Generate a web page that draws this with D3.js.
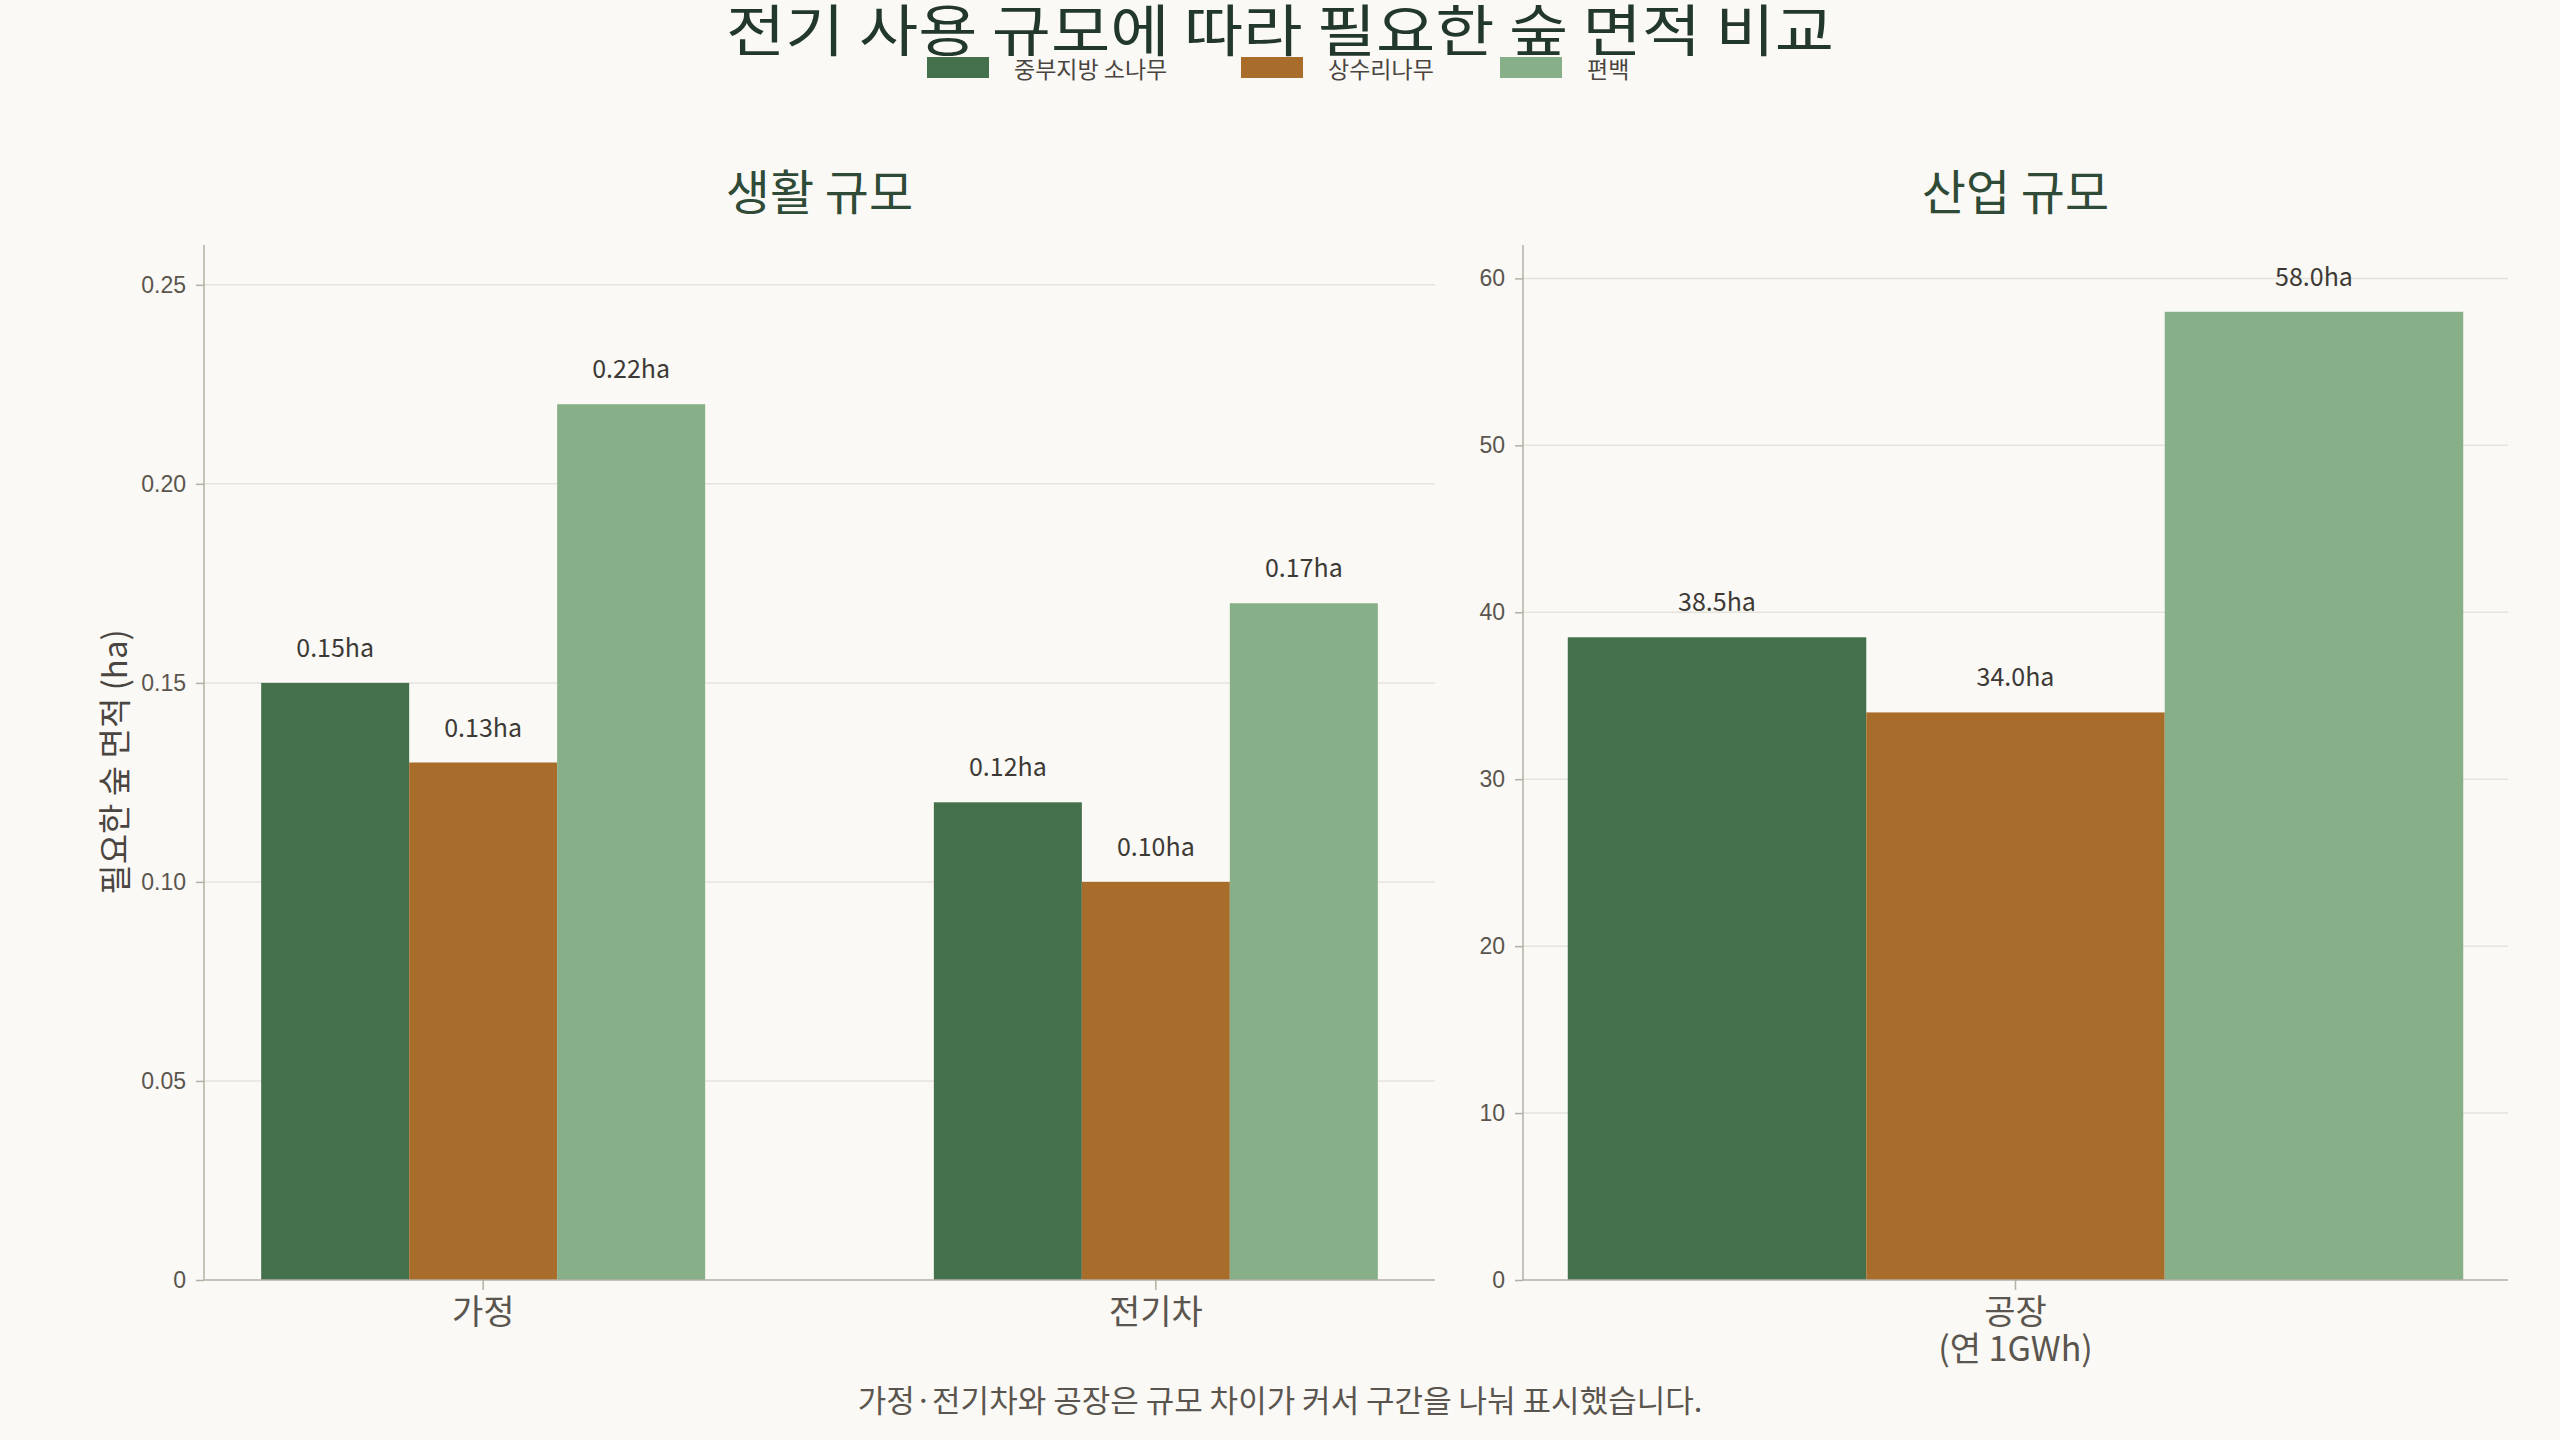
<!DOCTYPE html>
<html>
<head>
  <meta charset="utf-8">
  <title>전기 사용 규모에 따라 필요한 숲 면적 비교</title>
  <script src="https://cdn.jsdelivr.net/npm/d3@7"></script>
  <style>
    body { margin: 0; background: #faf9f5; }
    svg { font-family: "Noto Sans CJK KR", "Noto Sans", sans-serif; }
    .grid line { stroke: #e6e3dc; stroke-width: 1.5px; }
    .axis path, .axis line { stroke: #b5afa5; stroke-width: 1.5px; }
    .axis text { fill: #5a554e; }
  </style>
</head>
<body>
<svg id="chart" width="2560" height="1440"></svg>

<script type="text/javascript">
  // data
  var species = ['중부지방 소나무', '상수리나무', '편백'];
  var colors = ['#44704c', '#a86d2b', '#87af88'];

  var lifeCats = ['가정', '전기차'];
  var lifeValues = [
    [0.15, 0.13, 0.22],   // 가정
    [0.12, 0.10, 0.17]    // 전기차
  ];
  var lifeTicks = [0, 0.05, 0.10, 0.15, 0.20, 0.25];
  var lifeTickLabels = ['0', '0.05', '0.10', '0.15', '0.20', '0.25'];

  var industryCats = ['공장|(연 1GWh)'];
  var industryValues = [
    [38.5, 34.0, 58.0]
  ];
  var industryTicks = [0, 10, 20, 30, 40, 50, 60];

  var svg = d3.select('#chart');
  var plotTop = 245, plotBottom = 1280;

  function panel(opt) {
    var g = svg.append('g');

    var x0 = d3.scaleBand()
      .domain(opt.cats)
      .range([opt.left, opt.right])
      .paddingInner(opt.pi)
      .paddingOuter(opt.po);

    var x1 = d3.scaleBand()
      .domain(species)
      .range([0, x0.bandwidth()]);

    var y = d3.scaleLinear()
      .domain([0, opt.ymax])
      .range([plotBottom, plotTop]);

    // grid
    g.append('g')
      .attr('class', 'grid')
      .selectAll('line')
      .data(opt.ticks.filter(d => d > 0))
      .enter()
      .append('line')
      .attr('x1', opt.left)
      .attr('x2', opt.right)
      .attr('y1', d => y(d))
      .attr('y2', d => y(d));

    // bars
    var groups = g.selectAll('g.grp')
      .data(opt.cats)
      .enter()
      .append('g')
      .attr('class', 'grp')
      .attr('transform', d => 'translate(' + x0(d) + ',0)');

    groups.selectAll('rect')
      .data((d, i) => opt.values[i].map((v, j) => ({ v: v, s: species[j], j: j })))
      .enter()
      .append('rect')
      .attr('x', d => x1(d.s))
      .attr('width', x1.bandwidth())
      .attr('y', d => y(d.v))
      .attr('height', d => plotBottom - y(d.v))
      .attr('fill', d => colors[d.j]);

    groups.selectAll('text')
      .data((d, i) => opt.values[i].map((v, j) => ({ v: v, s: species[j] })))
      .enter()
      .append('text')
      .attr('x', d => x1(d.s) + x1.bandwidth() / 2)
      .attr('y', d => y(d.v) - 26)
      .attr('text-anchor', 'middle')
      .attr('font-size', 25)
      .attr('fill', '#3d3a36')
      .text(d => opt.fmt(d.v) + 'ha');

    // y axis
    var yAxis = g.append('g')
      .attr('class', 'axis')
      .attr('transform', 'translate(' + opt.left + ',0)')
      .call(d3.axisLeft(y).tickValues(opt.ticks).tickSize(8).tickPadding(10)
        .tickFormat((d, i) => opt.tickLabels ? opt.tickLabels[i] : d));
    yAxis.select('.domain').attr('d', 'M0,' + plotTop + 'V' + plotBottom);
    yAxis.selectAll('text').attr('font-size', 23);

    // x axis
    var xAxis = g.append('g')
      .attr('class', 'axis')
      .attr('transform', 'translate(0,' + plotBottom + ')')
      .call(d3.axisBottom(x0).tickSize(10).tickSizeOuter(0).tickFormat(''));
    xAxis.select('.domain').attr('d', 'M' + opt.left + ',0H' + opt.right);

    opt.cats.forEach(function (c) {
      var lines = c.split('|');
      var t = g.append('text')
        .attr('x', x0(c) + x0.bandwidth() / 2)
        .attr('y', plotBottom + 44)
        .attr('text-anchor', 'middle')
        .attr('font-size', 34)
        .attr('fill', '#5a554e');
      lines.forEach(function (l, i) {
        t.append('tspan')
          .attr('x', x0(c) + x0.bandwidth() / 2)
          .attr('dy', i === 0 ? 0 : 37)
          .text(l);
      });
    });

    // subplot title
    g.append('text')
      .attr('x', (opt.left + opt.right) / 2)
      .attr('y', 210)
      .attr('text-anchor', 'middle')
      .attr('font-size', 48)
      .attr('fill', '#2f4a36')
      .text(opt.title);
  }

  panel({
    left: 204, right: 1435, cats: lifeCats, values: lifeValues,
    pi: 0.34, po: 0.085, ymax: 0.26, ticks: lifeTicks, tickLabels: lifeTickLabels,
    fmt: d3.format('.2f'), title: '생활 규모'
  });

  panel({
    left: 1523, right: 2508, cats: industryCats, values: industryValues,
    pi: 0, po: 0.05, ymax: 62, ticks: industryTicks,
    fmt: d3.format('.1f'), title: '산업 규모'
  });

  // y label
  svg.append('text')
    .attr('transform', 'translate(127,762) rotate(-90)')
    .attr('text-anchor', 'middle')
    .attr('font-size', 33)
    .attr('fill', '#4a4540')
    .text('필요한 숲 면적 (ha)');

  // title (slightly widened to match the reference face)
  svg.append('text')
    .attr('transform', 'translate(1280,51) scale(1.15,1)')
    .attr('text-anchor', 'middle')
    .attr('font-size', 56)
    .attr('fill', '#22382a')
    .text('전기 사용 규모에 따라 필요한 숲 면적 비교');

  // legend
  var legendX = [927, 1241, 1500];
  var legend = svg.append('g');
  species.forEach(function (s, i) {
    legend.append('rect')
      .attr('x', legendX[i])
      .attr('y', 57)
      .attr('width', 62)
      .attr('height', 21)
      .attr('fill', colors[i]);
    legend.append('text')
      .attr('x', legendX[i] + 87)
      .attr('y', 78)
      .attr('font-size', 23)
      .attr('fill', '#4a4540')
      .text(s);
  });

  // footnote
  svg.append('text')
    .attr('x', 1280)
    .attr('y', 1412)
    .attr('text-anchor', 'middle')
    .attr('font-size', 31)
    .attr('fill', '#5a554e')
    .text('가정·전기차와 공장은 규모 차이가 커서 구간을 나눠 표시했습니다.');
</script>
</body>
</html>
